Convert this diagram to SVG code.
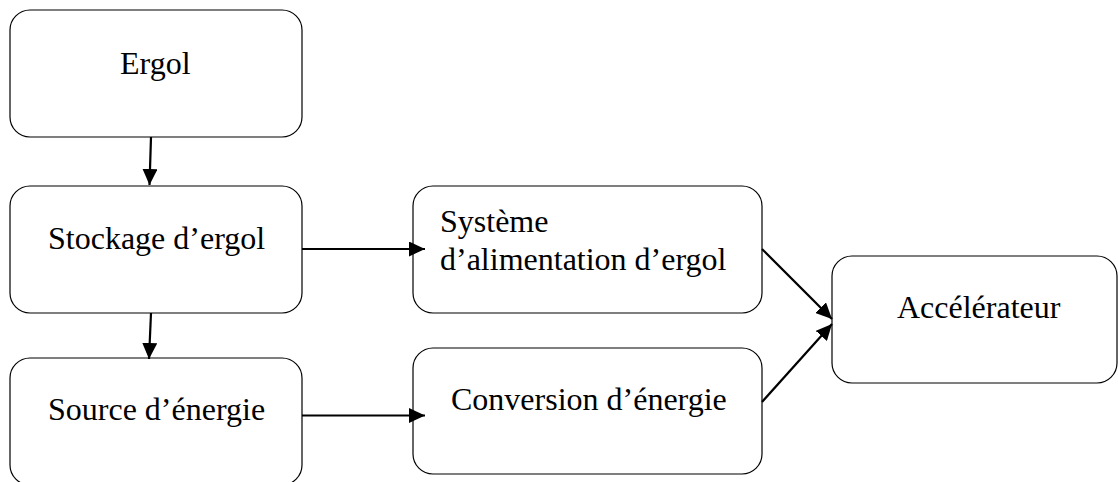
<svg xmlns="http://www.w3.org/2000/svg" width="1118" height="482" viewBox="0 0 1118 482">
<style>
.box{fill:#fff;stroke:#000;stroke-width:1.2}
.lbl{font-family:"Liberation Serif","Times New Roman",serif;font-size:32px;fill:#000}
.conn{stroke:#000;stroke-width:2.2;fill:none;marker-end:url(#ah)}
</style>
<defs>
<marker id="ah" markerUnits="userSpaceOnUse" markerWidth="16" markerHeight="15" refX="16" refY="7.5" orient="auto">
<path d="M0,0 L16,7.5 L0,15 Z" fill="#000"/>
</marker>
</defs>
<rect width="1118" height="482" fill="#fff"/>
<g id="ergol"><rect class="box" x="10" y="10" width="292" height="127" rx="20"/><text class="lbl" x="120" y="74">Ergol</text></g>
<g id="stockage"><rect class="box" x="10" y="186" width="292" height="127" rx="20"/><text class="lbl" x="48" y="249">Stockage d’ergol</text></g>
<g id="source"><rect class="box" x="10" y="358" width="292" height="127" rx="20"/><text class="lbl" x="48" y="420">Source d’énergie</text></g>
<g id="systeme"><rect class="box" x="413" y="186" width="349" height="127" rx="20"/><text class="lbl" x="440" y="232">Système</text><text class="lbl" x="440" y="270">d’alimentation d’ergol</text></g>
<g id="conversion"><rect class="box" x="413" y="348" width="349" height="126" rx="20"/><text class="lbl" x="451" y="410">Conversion d’énergie</text></g>
<g id="accelerateur"><rect class="box" x="832" y="256" width="285" height="127" rx="20"/><text class="lbl" x="897" y="318">Accélérateur</text></g>
<g id="connectors">
<line class="conn" x1="151" y1="137" x2="149.5" y2="185"/>
<line class="conn" x1="151" y1="313" x2="149" y2="359"/>
<line class="conn" x1="302" y1="249" x2="425" y2="249"/>
<line class="conn" x1="302" y1="415.5" x2="425" y2="415.5"/>
<line class="conn" x1="762" y1="249" x2="832" y2="319"/>
<line class="conn" x1="762" y1="402" x2="832" y2="324"/>
</g>
</svg>
